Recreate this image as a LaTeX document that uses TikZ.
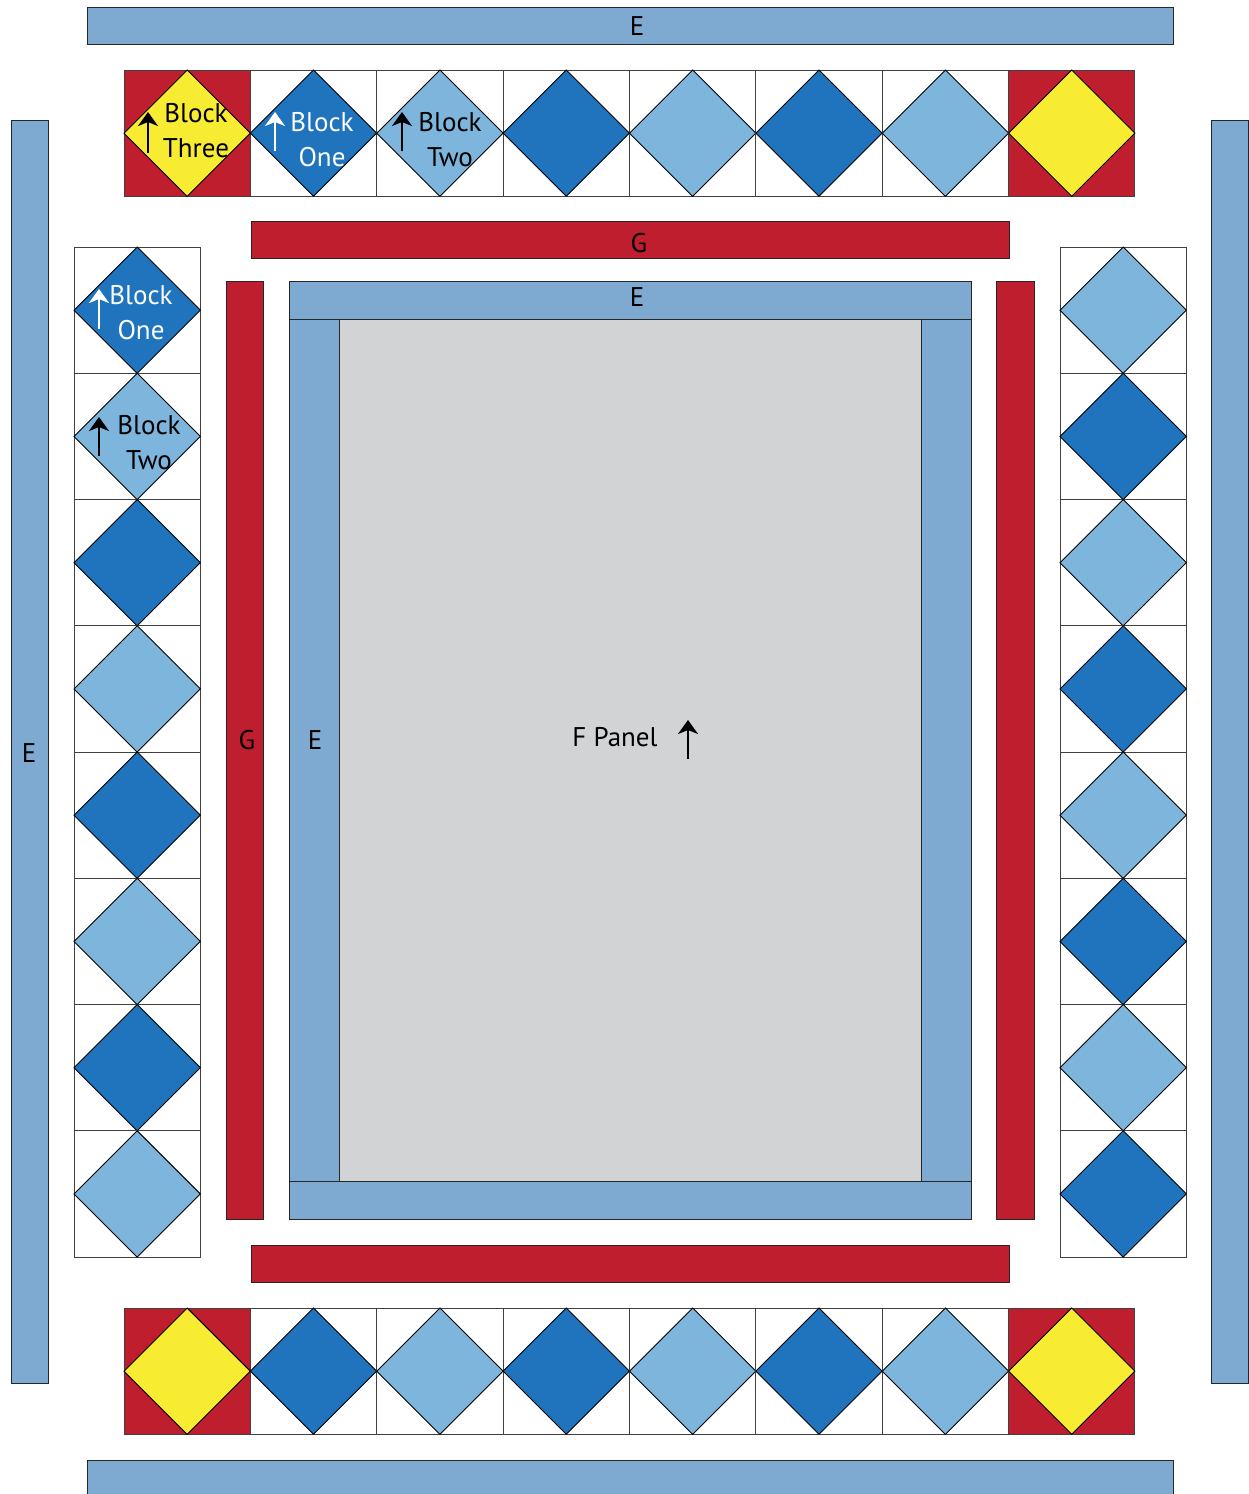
\documentclass[tikz,border=0pt]{standalone}
\usepackage{fontspec}
\setmainfont{PT Sans}
\usetikzlibrary{arrows.meta}
\definecolor{QuiltSky}{HTML}{7EAAD2}
\definecolor{QuiltNavy}{HTML}{1F74BD}
\definecolor{QuiltLight}{HTML}{7EB5DC}
\definecolor{QuiltRed}{HTML}{BE1E2D}
\definecolor{QuiltYellow}{HTML}{F7EC31}
\definecolor{QuiltGray}{HTML}{D1D3D4}
\tikzset{
  strip/.style={draw=black!85,line width=1pt},
  ebar/.style={strip,fill=QuiltSky},
  gbar/.style={strip,fill=QuiltRed},
  tile/.style={draw=black!75,line width=1pt},
  gem/.style={draw=black,line width=0.9pt},
  lbl/.style={font=\fontsize{27}{35}\selectfont,inner sep=0pt,align=center},
  grain/.style={-{Stealth[length=14pt,width=20pt,inset=4pt]},line width=2.6pt}
}
% one square block: left, top, background, diamond
\newcommand\quiltblock[4]{%
  \filldraw[tile,fill=#3] (#1,#2) rectangle ++(126.3,126.3);
  \filldraw[gem,fill=#4] ({#1+63.15},#2) -- ({#1+126.3},{#2+63.15})
    -- ({#1+63.15},{#2+126.3}) -- (#1,{#2+63.15}) -- cycle;
}
\begin{document}
\begin{tikzpicture}[x=1pt,y=-1pt]
  \useasboundingbox (0,0) rectangle (1249,1494);
  % outer E borders
  \draw[ebar] (87,7) rectangle (1173,44);
  \draw[ebar] (87,1460) rectangle (1173,1500);
  \draw[ebar] (11,120) rectangle (48,1383);
  \draw[ebar] (1211,120) rectangle (1248,1383);
  % block rows
  \foreach \bg/\c [count=\i from 0] in {QuiltRed/QuiltYellow,white/QuiltNavy,white/QuiltLight,white/QuiltNavy,white/QuiltLight,white/QuiltNavy,white/QuiltLight,QuiltRed/QuiltYellow}{
    \quiltblock{124+\i*126.375}{70}{\bg}{\c}
    \quiltblock{124+\i*126.375}{1308}{\bg}{\c}
  }
  % block columns
  \foreach \c [count=\i from 0] in {QuiltNavy,QuiltLight,QuiltNavy,QuiltLight,QuiltNavy,QuiltLight,QuiltNavy,QuiltLight}
    \quiltblock{74}{247+\i*126.25}{white}{\c};
  \foreach \c [count=\i from 0] in {QuiltLight,QuiltNavy,QuiltLight,QuiltNavy,QuiltLight,QuiltNavy,QuiltLight,QuiltNavy}
    \quiltblock{1060}{247+\i*126.25}{white}{\c};
  % G borders
  \draw[gbar] (251,221) rectangle (1009,258);
  \draw[gbar] (251,1245) rectangle (1009,1282);
  \draw[gbar] (226,281) rectangle (263,1219);
  \draw[gbar] (996,281) rectangle (1034,1219);
  % inner E frame and F panel
  \draw[ebar] (289,281) rectangle (971,1219);
  \draw[strip,fill=QuiltGray] (339,319) rectangle (921,1181);
  \draw[strip] (289,319) -- (339,319);
  \draw[strip] (921,319) -- (971,319);
  \draw[strip] (289,1181) -- (339,1181);
  \draw[strip] (921,1181) -- (971,1181);
  % labels
  \node[lbl] (eTop) at (637,26) {E};
  \node[lbl] (eSide) at (29,753) {E};
  \node[lbl] (gTop) at (639,243) {G};
  \node[lbl] (gSide) at (247,740) {G};
  \node[lbl] (eInnerTop) at (637,297) {E};
  \node[lbl] (eInnerSide) at (315,740) {E};
  \node[lbl] (fPanel) at (615,737) {F Panel};
  \draw[grain] (688,759) -- (688,720);
  \node[lbl] (bThree) at (196,131) {Block\\Three};
  \draw[grain] (148,153) -- (148,112);
  \node[lbl,text=white] (bOneTop) at (322,140) {Block\\One};
  \draw[grain,draw=white] (275,151) -- (275,112);
  \node[lbl] (bTwoTop) at (450,140) {Block\\Two};
  \draw[grain] (402,151) -- (402,112);
  \node[lbl,text=white] (bOneSide) at (141,313) {Block\\One};
  \draw[grain,draw=white] (99,329) -- (99,289);
  \node[lbl] (bTwoSide) at (149,443) {Block\\Two};
  \draw[grain] (99,456) -- (99,417);
\end{tikzpicture}
\end{document}
